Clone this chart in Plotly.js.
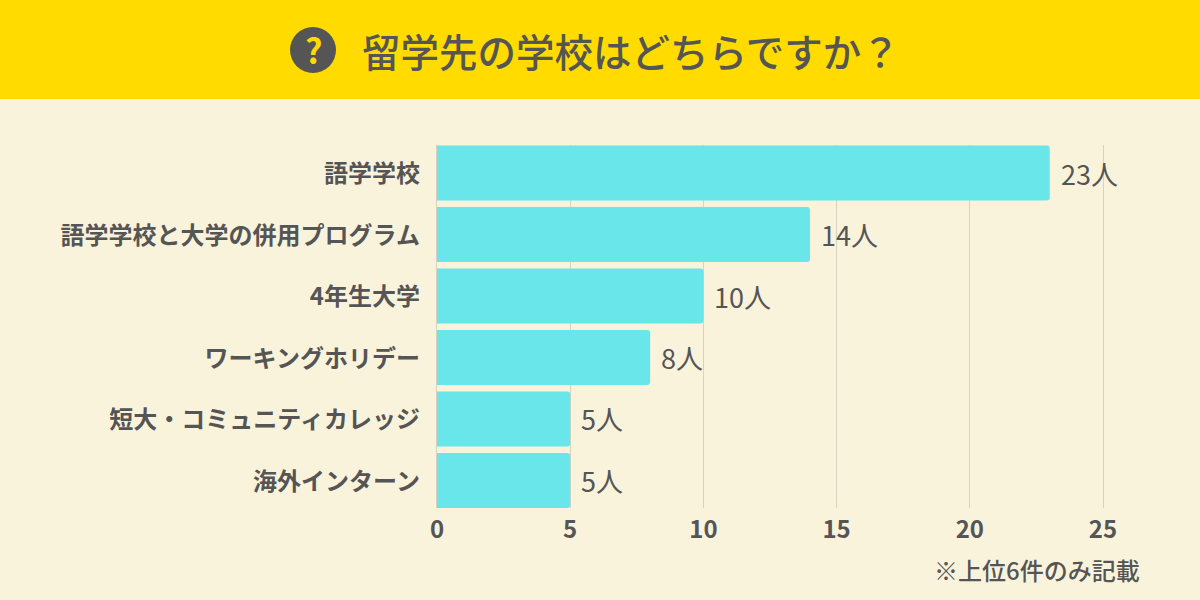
<!DOCTYPE html>
<html>
<head>
<meta charset="utf-8">
<script src="https://cdn.plot.ly/plotly-3.0.1.min.js"></script>
<style>html,body{margin:0;padding:0;background:#FAF3DC;overflow:hidden}#chart{width:1200px;height:600px}</style>
</head>
<body>
<div id="chart"></div>
<script>
const categories = ["語学学校","語学学校と大学の併用プログラム","4年生大学","ワーキングホリデー","短大・コミュニティカレッジ","海外インターン"];
const values = [23,14,10,8,5,5];
const xTicks = [0,5,10,15,20,25];
const titleText = "留学先の学校はどちらですか？";
const noteText = "※上位6件のみ記載";
const unit = "人";

const FONT = '"Noto Sans CJK JP","Noto Sans",sans-serif';
const INK = "#555555";
const GRID = "#D8D3C1";
const W = 1200, H = 600;
const m = {l:437, r:97, t:145, b:92};
const px = x => (x - m.l) / (W - m.l - m.r);
const py = y => (H - m.b - y) / (H - m.t - m.b);

const valueLabels = categories.map((c,i) => ({
  x: values[i], y: c, xref:"x", yref:"y",
  text: values[i] + unit, showarrow:false,
  xanchor:"left", yanchor:"middle", xshift:9, yshift:0,
  font:{family:FONT, size:27, color:INK}
}));

Plotly.newPlot("chart", [{
  type:"bar", orientation:"h", x:values, y:categories,
  marker:{color:"#69E6EA", cornerradius:3, line:{width:0}},
  hoverinfo:"skip"
}], {
  width:W, height:H, margin:m,
  paper_bgcolor:"#FAF3DC", plot_bgcolor:"#FAF3DC",
  showlegend:false, bargap:0.104,
  xaxis:{range:[0,25], tickvals:xTicks, ticks:"", showline:false, zeroline:false,
    showgrid:true, gridcolor:GRID, gridwidth:1.3,
    tickfont:{family:FONT, size:24, color:INK, weight:700}, ticklabelstandoff:5, automargin:false},
  yaxis:{type:"category", categoryorder:"array", categoryarray:categories,
    range:[5.448,-0.456], ticks:"", zeroline:false, showgrid:false,
    showline:true, mirror:true, linecolor:GRID, linewidth:1.3,
    tickfont:{family:FONT, size:24, color:INK, weight:700},
    ticklabelstandoff:11, ticklabelshift:-1, automargin:false},
  shapes:[
    {type:"rect", xref:"paper", yref:"paper", x0:px(-5), x1:px(W+5), y0:py(99), y1:py(-5),
      fillcolor:"#FFDB00", line:{width:0}, layer:"below"},
    {type:"circle", xref:"paper", yref:"paper", x0:px(290), x1:px(336), y0:py(73), y1:py(27),
      fillcolor:INK, line:{width:0}, layer:"below"}
  ],
  annotations:[
    ...valueLabels,
    {xref:"paper", yref:"paper", x:px(313), y:py(49.5), text:"?", showarrow:false,
      xanchor:"center", yanchor:"middle", font:{family:FONT, size:34, color:"#FFDB00", weight:700}},
    {xref:"paper", yref:"paper", x:px(360), y:py(50), text:titleText, showarrow:false,
      xanchor:"left", yanchor:"middle", font:{family:FONT, size:38.5, color:INK, weight:500}},
    {xref:"paper", yref:"paper", x:px(1142), y:py(569), text:noteText, showarrow:false,
      xanchor:"right", yanchor:"middle", font:{family:FONT, size:24, color:INK, weight:500}}
  ]
}, {staticPlot:true, displayModeBar:false});
</script>
</body>
</html>
